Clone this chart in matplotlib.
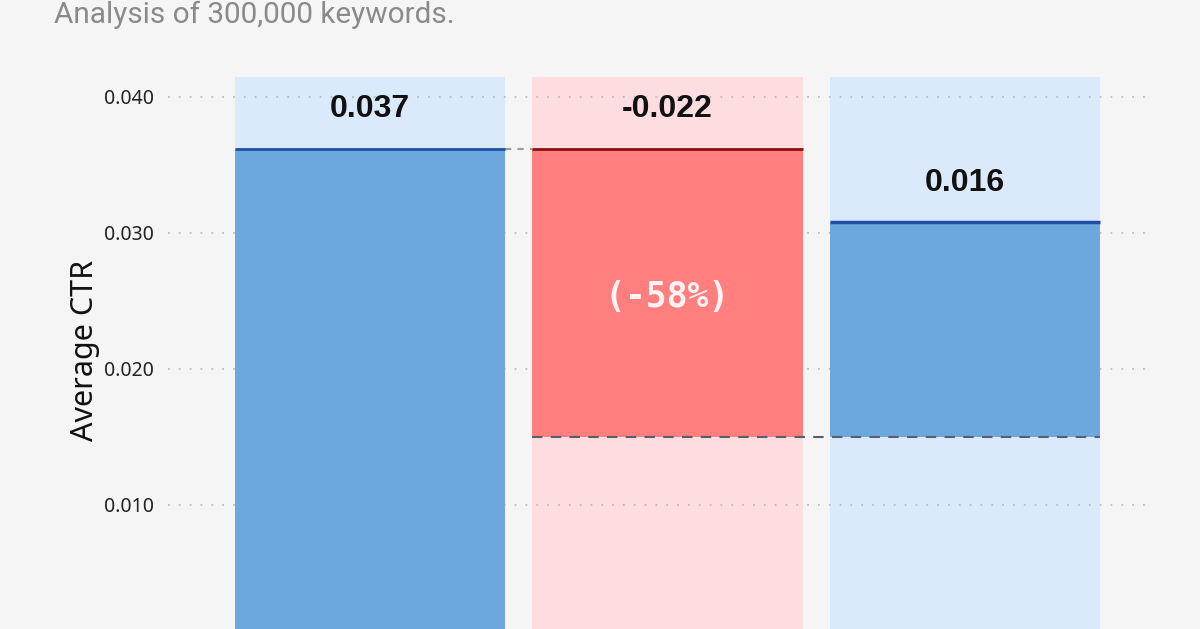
import matplotlib
matplotlib.use("Agg")
import matplotlib.pyplot as plt

# waterfall of average CTR
steps = ["start", "change", "recovery"]
start_ctr = 0.0362
change_ctr = -0.0212
recovery_ctr = 0.0158
value_labels = ["0.037", "-0.022", "0.016"]
pct_label = "(-58%)"
y_ticks = [0.0, 0.010, 0.020, 0.030, 0.040]
y_tick_labels = ["0", "0.010", "0.020", "0.030", "0.040"]
band_top = 0.0415

bg = "#f5f5f6"
light_blue = "#dbeafa"
light_red = "#fddde0"
blue = "#6ca8de"
red = "#ff7e7e"
dark_blue = "#1f4ea6"
dark_red = "#8e0f0f"

fig = plt.figure(figsize=(12, 6.29), dpi=100, facecolor=bg)
ax = fig.add_axes([168 / 1200, -12 / 629, 977 / 1200, 581 / 629])
ax.set_facecolor(bg)

x = [0, 1, 2]
w = 0.908
after_drop = start_ctr + change_ctr
end_ctr = after_drop + recovery_ctr

# background bands
band_colors = [light_blue, light_red, light_blue]
ax.bar(x, [band_top] * 3, width=w, color=band_colors, zorder=1)

# main bars
ax.bar(x[0], start_ctr, width=w, color=blue, zorder=2)
ax.bar(x[1], -change_ctr, bottom=after_drop, width=w, color=red, zorder=2)
ax.bar(x[2], recovery_ctr, bottom=after_drop, width=w, color=blue, zorder=2)

# top edges
ax.hlines(start_ctr, x[0] - w / 2, x[0] + w / 2, color=dark_blue, lw=2, zorder=4)
ax.hlines(start_ctr, x[1] - w / 2, x[1] + w / 2, color=dark_red, lw=2, zorder=4)
ax.hlines(end_ctr, x[2] - w / 2, x[2] + w / 2, color=dark_blue, lw=2.5, zorder=4)

# connectors
ax.hlines(start_ctr, x[0] + w / 2, x[1] - w / 2, color="#9a9a9a", lw=1.5,
          linestyles=(0, (3, 3)), zorder=3)
ax.hlines(after_drop, x[1] - w / 2, x[2] + w / 2, color="#55606a", lw=1.5,
          linestyles=(0, (5, 4)), zorder=4)

# labels
off = 0.0029
tops = [start_ctr, start_ctr, end_ctr]
for xi, top, lab in zip(x, tops, value_labels):
    ax.text(xi, top + off, lab, ha="center", va="center", fontsize=23,
            fontweight="bold", family="Liberation Sans", color="#111111", zorder=5)
ax.text(x[1], (start_ctr + after_drop) / 2 - 0.0003, pct_label, ha="center",
        va="center", fontsize=25, fontweight="bold", family="DejaVu Sans Mono",
        color="#fff3f3", zorder=5)

ax.set_xlim(-0.679, 2.605)
ax.set_ylim(0, 0.04272)
ax.set_yticks(y_ticks)
ax.set_yticklabels(y_tick_labels, family="Noto Sans", fontsize=14, color="#222222")
ax.tick_params(axis="y", length=0, pad=10)
ax.set_xticks([])
for s in ax.spines.values():
    s.set_visible(False)
ax.yaxis.grid(True, linestyle=(0, (1, 5)), color="#b0b0b0", lw=1.3, alpha=0.8)
for gl in ax.get_ygridlines():
    gl.set_zorder(3)
ax.set_ylabel("Average CTR", family="Noto Sans", fontsize=22, color="#111111", labelpad=3)

fig.text(54 / 1200, 606 / 629, "Analysis of 300,000 keywords.", family="Roboto",
         fontsize=21.4, color="#8a8a8a", va="baseline", ha="left")

fig.savefig("out.png", dpi=100, facecolor=bg)
